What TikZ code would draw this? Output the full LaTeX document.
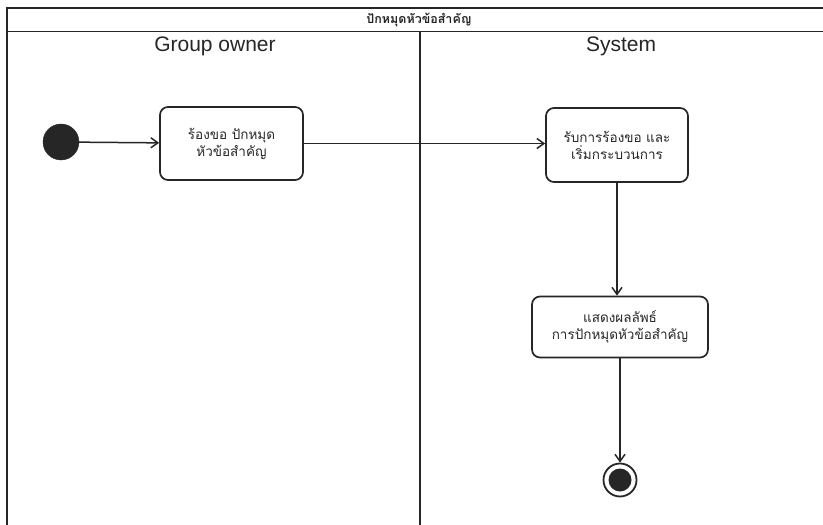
\documentclass[tikz,border=0pt]{standalone}
\usepackage{fontspec}
\setmainfont{Liberation Sans}
\newfontfamily\thaifont[Script=Thai]{Loma}
\usetikzlibrary{arrows.meta}
\definecolor{ink}{HTML}{262626}
\tikzset{
  frame/.style={draw=ink, line width=1.7bp},
  act/.style={draw=ink, line width=1.7bp, rounded corners=8bp, align=center,
    font=\thaifont\fontsize{13.5bp}{17bp}\selectfont, text=ink, inner sep=0pt},
  flow/.style={draw=ink, line width=1.5bp, -{Straight Barb[length=7bp,width=10bp,line width=1.5bp]}},
  lane/.style={font=\fontsize{21bp}{24bp}\selectfont, text=ink},
}
\begin{document}
\begin{tikzpicture}[x=1bp,y=-1bp]
\useasboundingbox (0,0) rectangle (823,525);
% frame
\coordinate (tl) at (7,8);
\coordinate (tr) at (823,8);
\coordinate (ml) at (7,31.5);
\coordinate (mr) at (823,31.5);
\coordinate (bl) at (7,525);
\coordinate (dt) at (420,31.5);
\coordinate (db) at (420,525);
\draw[frame] (tr) -- (tl) -- (bl);
\draw[frame] (ml) -- (mr);
\draw[frame] (dt) -- (db);
\node[font=\thaifont\bfseries\fontsize{12.5bp}{14bp}\selectfont, text=ink] (title) at (419,20) {ปักหมุดหัวข้อสำคัญ};
\node[lane] (go) at (215,46) {Group owner};
\node[lane] (sys) at (621,46) {System};
% nodes
\node[circle, fill=ink, draw=ink, minimum size=36bp, inner sep=0pt] (start) at (61,142) {};
\node[act, minimum width=143bp, minimum height=73bp] (a1) at (231.5,143.5) {ร้องขอ ปักหมุด\\หัวข้อสำคัญ};
\node[act, minimum width=142bp, minimum height=74bp] (a2) at (617,145) {รับการร้องขอ และ\\เริ่มกระบวนการ};
\node[act, minimum width=176bp, minimum height=61bp] (a3) at (620,327) {แสดงผลลัพธ์\\การปักหมุดหัวข้อสำคัญ};
\node[circle, draw=ink, line width=1.8bp, minimum size=33bp, inner sep=0pt] (end) at (620,480) {};
\node[circle, fill=ink, minimum size=23bp, inner sep=0pt] (endin) at (end) {};
% flows
\draw[flow] (start) -- (a1);
\draw[flow] (a1.east) -- (a1.east -| a2.west);
\draw[flow] (a2.south) -- (a2.south |- a3.north);
\draw[flow] (a3.south) -- (end.north);
\end{tikzpicture}
\end{document}
